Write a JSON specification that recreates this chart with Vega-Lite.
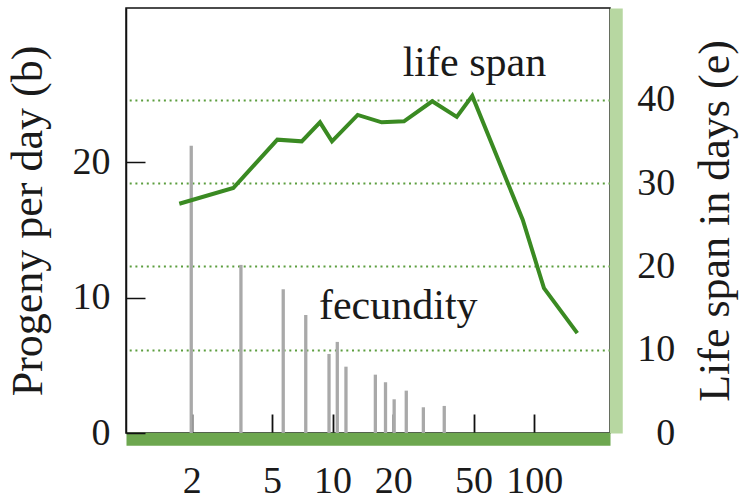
{
  "$schema": "https://vega.github.io/schema/vega-lite/v6.json",
  "width": 484,
  "height": 425,
  "autosize": {"type": "none"},
  "padding": {"left": 126, "top": 8, "right": 135, "bottom": 67},
  "config": {
    "view": {"stroke": "#111111", "strokeWidth": 1.5},
    "font": "Liberation Serif",
    "axis": {
      "labelFont": "Liberation Serif",
      "titleFont": "Liberation Serif",
      "labelColor": "#1a1a1a",
      "titleColor": "#1a1a1a",
      "titleFontWeight": "normal",
      "labelFontSize": 38,
      "titleFontSize": 44
    }
  },
  "layer": [
    {
      "layer": [
        {
          "data": {"values": [
            {"x": 1.99, "progeny": 21.23},
            {"x": 3.51, "progeny": 12.42},
            {"x": 5.69, "progeny": 10.62},
            {"x": 7.36, "progeny": 8.72},
            {"x": 9.6, "progeny": 5.84},
            {"x": 10.55, "progeny": 6.73},
            {"x": 11.65, "progeny": 4.9},
            {"x": 16.3, "progeny": 4.31},
            {"x": 18.3, "progeny": 3.75},
            {"x": 20.2, "progeny": 2.49},
            {"x": 23.2, "progeny": 3.13},
            {"x": 28.2, "progeny": 1.9},
            {"x": 35.8, "progeny": 2.0}
          ]},
          "mark": {"type": "rule", "strokeWidth": 3.3, "color": "#a9a9a9"},
          "encoding": {
            "x": {
              "field": "x", "type": "quantitative",
              "scale": {"type": "log", "domain": [0.9445, 237.7], "nice": false},
              "axis": {
                "orient": "bottom", "values": [2, 5, 10, 20, 50, 100],
                "title": null, "offset": 0, "domain": false, "labels": false,
                "tickColor": "#111111", "tickWidth": 1.8, "tickSize": -19, "grid": false
              }
            },
            "y": {
              "field": "progeny", "type": "quantitative",
              "scale": {"domain": [0, 31.4], "nice": false},
              "axis": {
                "orient": "left", "values": [0, 10, 20], "title": "Progeny per day (b)",
                "labelFont": "Liberation Serif", "titleFont": "Liberation Serif",
                "domainColor": "#111111", "domainWidth": 1.5, "tickColor": "#111111",
                "tickWidth": 1.5, "tickSize": -19, "labelPadding": 35, "grid": false,
                "titlePadding": 22
              }
            },
            "y2": {"datum": 0}
          }
        },
        {
          "data": {"values": [{"label": "fecundity"}]},
          "mark": {"type": "text", "align": "left", "baseline": "alphabetic", "fontSize": 42, "font": "Liberation Serif", "color": "#1a1a1a"},
          "encoding": {
            "x": {"datum": 8.56, "type": "quantitative"},
            "y": {"datum": 8.4, "type": "quantitative"},
            "text": {"field": "label"}
          }
        }
      ]
    },
    {
      "layer": [
        {
          "data": {"values": [
            {"x": 1.736, "lifespan": 27.51},
            {"x": 3.217, "lifespan": 29.4},
            {"x": 5.32, "lifespan": 35.2},
            {"x": 7.03, "lifespan": 35.0},
            {"x": 8.66, "lifespan": 37.28},
            {"x": 9.93, "lifespan": 35.0},
            {"x": 13.32, "lifespan": 38.17},
            {"x": 17.52, "lifespan": 37.28},
            {"x": 22.6, "lifespan": 37.4},
            {"x": 31.2, "lifespan": 39.81},
            {"x": 41.3, "lifespan": 37.93},
            {"x": 49.3, "lifespan": 40.45},
            {"x": 87.7, "lifespan": 25.59},
            {"x": 111.8, "lifespan": 17.39},
            {"x": 163.6, "lifespan": 11.98}
          ]},
          "mark": {"type": "line", "color": "#3a8a22", "strokeWidth": 4, "strokeJoin": "miter"},
          "encoding": {
            "x": {
              "field": "x", "type": "quantitative",
              "axis": {
                "orient": "bottom", "values": [2, 5, 10, 20, 50, 100], "format": "d",
                "title": null, "offset": 5.75, "domainColor": "#6da74f", "domainWidth": 13,
                "domainCap": "butt", "ticks": false, "tickSize": 0,
                "labelFont": "Liberation Serif", "labelFontSize": 38,
                "labelPadding": 24, "grid": false, "labelFlush": false
              }
            },
            "y": {
              "field": "lifespan", "type": "quantitative",
              "scale": {"domain": [0, 51], "nice": false},
              "axis": {
                "orient": "right", "values": [0, 10, 20, 30, 40], "title": "Life span in days (e)",
                "labelFont": "Liberation Serif", "titleFont": "Liberation Serif",
                "titleAngle": -90, "titleBaseline": "top", "offset": 5.75,
                "domainColor": "#b7d7a1", "domainWidth": 13, "domainCap": "butt",
                "ticks": false, "tickSize": 0, "labelAlign": "right", "labelPadding": 59,
                "grid": true, "gridColor": "#5c9e3f", "gridDash": [2, 3.7], "gridWidth": 2,
                "gridOpacity": {"condition": {"test": "datum.value === 0", "value": 0}, "value": 1},
                "titlePadding": 19
              }
            }
          }
        },
        {
          "data": {"values": [{"label": "life span"}]},
          "mark": {"type": "text", "align": "left", "baseline": "alphabetic", "fontSize": 42, "font": "Liberation Serif", "color": "#1a1a1a"},
          "encoding": {
            "x": {"datum": 22.27, "type": "quantitative"},
            "y": {"datum": 42.89, "type": "quantitative"},
            "text": {"field": "label"}
          }
        }
      ]
    }
  ],
  "resolve": {
    "scale": {"y": "independent"},
    "axis": {"x": "independent", "y": "independent"}
  }
}
